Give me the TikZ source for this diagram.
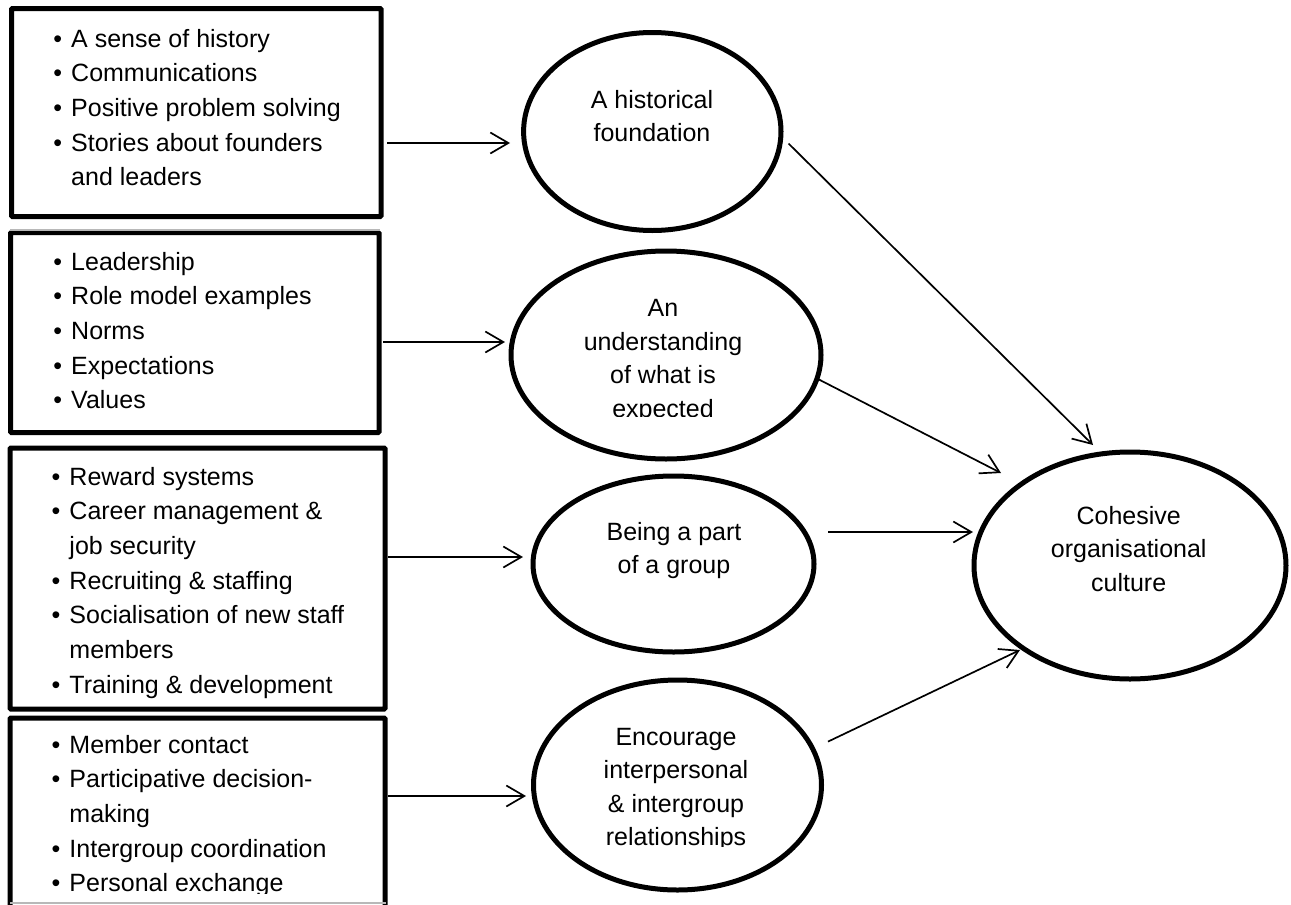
\documentclass[tikz,border=0pt]{standalone}
\usepackage{fontspec}
\setmainfont{Liberation Sans}
\usetikzlibrary{shapes.geometric,arrows.meta}

\begin{document}
\begin{tikzpicture}[x=1pt,y=-1pt,
  listbox/.style={draw, line width=5pt, rounded corners=1pt, inner sep=0pt, outer sep=0pt},
  bubble/.style={draw, ellipse, line width=5pt, inner sep=0pt, outer sep=0pt},
  listtext/.style={inner sep=0pt, anchor=base west, font=\fontsize{25}{34.7}\selectfont},
  bubbletext/.style={inner sep=0pt, anchor=base, font=\fontsize{25}{33.5}\selectfont},
  arr/.style={-{Straight Barb[length=18pt,width=21pt]}, line width=1.7pt},
  rule/.style={draw=black!28, line width=1.2pt},
]
\clip (0,0) rectangle (1291,905);
\fill[white] (0,0) rectangle (1291,905);

% ---- boxes of contributing factors
\node[listbox, minimum width=369.5, minimum height=208] (b1) at (196.25,112.5) {};
\node[listbox, minimum width=368.5, minimum height=200] (b2) at (194.75,332.5) {};
\node[listbox, minimum width=375,   minimum height=261] (b3) at (197.5,578.5) {};
\node[listbox, minimum width=375,   minimum height=222] (b4) at (197.5,829) {};
\draw[rule] (10,230) -- (380,230);
\draw[rule] (10,903) -- (386,903);

\node[listtext] (l1) at (53.25,47) {\begin{tabular}[t]{@{}l@{\hspace{9pt}}l@{}}
\textbullet & A sense of history\\
\textbullet & Communications\\
\textbullet & Positive problem solving\\
\textbullet & Stories about founders\\
            & and leaders
\end{tabular}};

\node[listtext] (l2) at (53.25,270) {\begin{tabular}[t]{@{}l@{\hspace{9pt}}l@{}}
\textbullet & Leadership\\
\textbullet & Role model examples\\
\textbullet & Norms\\
\textbullet & Expectations\\
\textbullet & Values
\end{tabular}};

\node[listtext] (l3) at (51.5,485) {\begin{tabular}[t]{@{}l@{\hspace{9pt}}l@{}}
\textbullet & Reward systems\\
\textbullet & Career management \&\\
            & job security\\
\textbullet & Recruiting \& staffing\\
\textbullet & Socialisation of new staff\\
            & members\\
\textbullet & Training \& development
\end{tabular}};

\begin{scope}
\clip (0,700) rectangle (400,893);
\node[listtext] (l4) at (51.5,753) {\begin{tabular}[t]{@{}l@{\hspace{9pt}}l@{}}
\textbullet & Member contact\\
\textbullet & Participative decision-\\
            & making\\
\textbullet & Intergroup coordination\\
\textbullet & Personal exchange
\end{tabular}};
\end{scope}

% ---- ellipses
\node[bubble, minimum width=257.4, minimum height=198] (e1) at (652.3,131.5) {};
\node[bubble, minimum width=310,   minimum height=208] (e2) at (666,355) {};
\node[bubble, minimum width=281,   minimum height=176] (e3) at (673.5,564) {};
\node[bubble, minimum width=288,   minimum height=210] (e4) at (677.5,785) {};
\node[bubble, minimum width=312,   minimum height=227] (e5) at (1130,565.5) {};

\node[bubbletext] (t1) at (652,108) {\begin{tabular}[t]{@{}c@{}}A historical\\foundation\end{tabular}};
\begin{scope}
\clip (500,260) rectangle (830,416.5);
\node[bubbletext] (t2) at (663,316.7) {\begin{tabular}[t]{@{}c@{}}An\\understanding\\of what is\\expected\end{tabular}};
\end{scope}
\node[bubbletext] (t3) at (674,540) {\begin{tabular}[t]{@{}c@{}}Being a part\\of a group\end{tabular}};
\begin{scope}
\clip (520,690) rectangle (830,846);
\node[bubbletext] (t4) at (676,745) {\begin{tabular}[t]{@{}c@{}}Encourage\\interpersonal\\\& intergroup\\relationships\end{tabular}};
\end{scope}
\node[bubbletext] (t5) at (1128.7,524) {\begin{tabular}[t]{@{}c@{}}Cohesive\\organisational\\culture\end{tabular}};

% ---- connector end points
\coordinate (a1s) at (387,143);  \coordinate (a1e) at (510,143);
\coordinate (a2s) at (383,342);  \coordinate (a2e) at (505,342);
\coordinate (a3s) at (388,557);  \coordinate (a3e) at (523,557);
\coordinate (a4s) at (388,796);  \coordinate (a4e) at (526,796);
\coordinate (d1s) at (788.5,143.5); \coordinate (d1e) at (1093,445);
\coordinate (d2s) at (816,378);  \coordinate (d2e) at (1001,473);
\coordinate (d3s) at (828,532);  \coordinate (d3e) at (973,532);
\coordinate (d4s) at (828,741.6); \coordinate (d4e) at (1020,650);

% ---- connectors
\draw[arr] (a1s) -- (a1e);
\draw[arr] (a2s) -- (a2e);
\draw[arr] (a3s) -- (a3e);
\draw[arr] (a4s) -- (a4e);
\draw[arr] (d1s) -- (d1e);
\draw[arr] (d2s) -- (d2e);
\draw[arr] (d3s) -- (d3e);
\draw[arr] (d4s) -- (d4e);
\end{tikzpicture}
\end{document}
